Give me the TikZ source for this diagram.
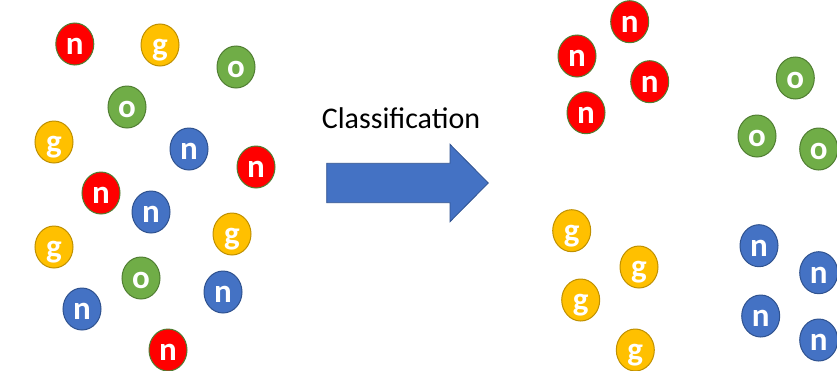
\documentclass[tikz,border=0pt]{standalone}
\usepackage{fontspec}
\setmainfont{Carlito}
\usetikzlibrary{shapes.geometric}
\definecolor{cred}{HTML}{FF0000}
\definecolor{credb}{HTML}{507E32}
\definecolor{cyel}{HTML}{FFC000}
\definecolor{cyelb}{HTML}{BF9000}
\definecolor{cgrn}{HTML}{70AD47}
\definecolor{cgrnb}{HTML}{507E32}
\definecolor{cblu}{HTML}{4472C4}
\definecolor{cblub}{HTML}{2F528F}
\tikzset{
  ball/.style={ellipse, minimum width=38pt, minimum height=42pt, inner sep=0pt,
    line width=1pt, text=white, font=\fontsize{33}{33}\selectfont\bfseries,
    text height=21pt, text depth=0pt},
  rn/.style={ball, fill=cred, draw=credb},
  yg/.style={ball, fill=cyel, draw=cyelb},
  go/.style={ball, fill=cgrn, draw=cgrnb},
  bn/.style={ball, fill=cblu, draw=cblub},
  bigarrow/.style={fill=cblu, draw=cblub, line width=0.8pt},
}
\begin{document}
\begin{tikzpicture}[x=1pt,y=-1pt]
\useasboundingbox (0,0) rectangle (837,370);
\clip (0,0) rectangle (837,370);
% left, mixed
\node[rn] (l1) at (74.8,44) {n};
\node[yg] (l2) at (160,45) {g};
\node[go] (l3) at (236,67) {o};
\node[go] (l4) at (127,107) {o};
\node[yg] (l5) at (54,142) {g};
\node[bn] (l6) at (189,149) {n};
\node[rn] (l7) at (256,167) {n};
\node[rn] (l8) at (101,193) {n};
\node[bn] (l9) at (151,212) {n};
\node[yg] (l10) at (54,247) {g};
\node[yg] (l11) at (232,234) {g};
\node[go] (l12) at (141,278) {o};
\node[bn] (l13) at (82,309) {n};
\node[bn] (l14) at (223,292) {n};
\node[rn] (l15) at (168,350) {n};
% arrow and label
\node[font=\fontsize{30}{30}\selectfont, anchor=center] (lbl) at (401,118) {Classification};
\draw[bigarrow] (326.7,163.3) -- (450,163.3) -- (450,144.3) -- (488.3,183) -- (450,221.7) -- (450,202.7) -- (326.7,202.7) -- cycle;
% right, sorted
\node[rn] (r1) at (629.7,21.7) {n};
\node[rn] (r2) at (577,56) {n};
\node[rn] (r3) at (649.7,81.7) {n};
\node[rn] (r4) at (586,112.7) {n};
\node[go] (r5) at (795.3,78) {o};
\node[go] (r6) at (757,136) {o};
\node[go] (r7) at (818.7,149) {o};
\node[yg] (r8) at (571.7,230.7) {g};
\node[yg] (r9) at (639,267) {g};
\node[yg] (r10) at (580.7,300) {g};
\node[yg] (r11) at (635.3,350) {g};
\node[bn] (r12) at (759,245.7) {n};
\node[bn] (r13) at (818.7,272.7) {n};
\node[bn] (r14) at (760.7,316) {n};
\node[bn] (r15) at (818.7,340) {n};
\end{tikzpicture}
\end{document}
